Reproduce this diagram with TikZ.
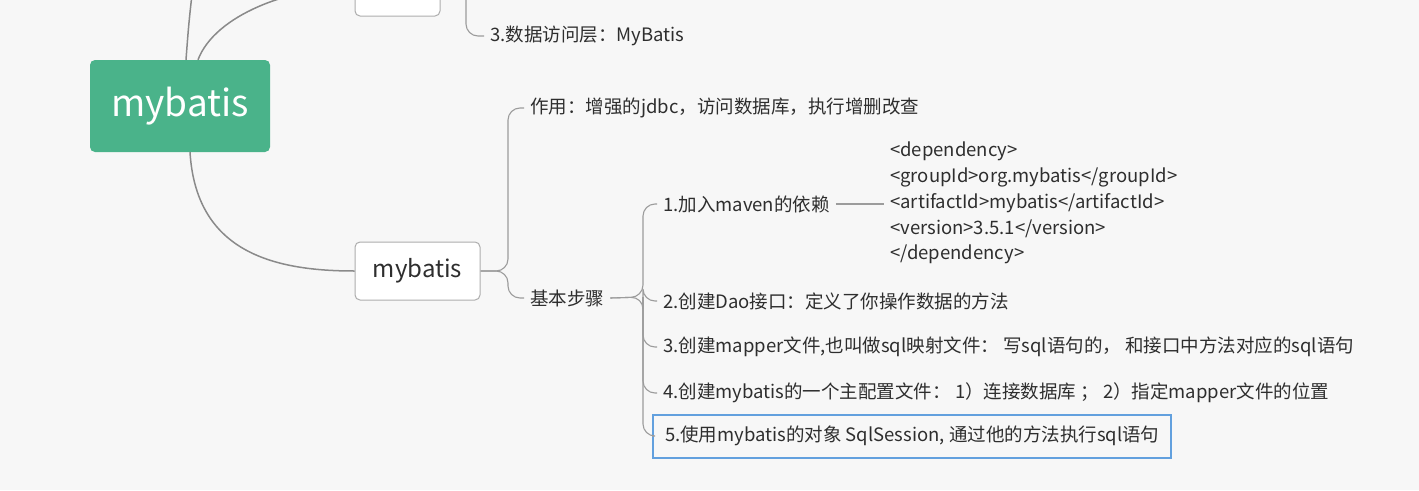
\documentclass[tikz,border=0pt]{standalone}
\usepackage{fontspec}
\newfontfamily\cjk{Noto Sans CJK SC}
\usepackage{xcolor}
\usepackage{tikz}
\usetikzlibrary{calc}

\definecolor{bgc}{HTML}{F7F7F7}
\definecolor{rootgreen}{HTML}{4AB38A}
\definecolor{linkgray}{HTML}{8A8A8A}
\definecolor{txt}{HTML}{2E2E2E}
\definecolor{selblue}{HTML}{62A0DE}

\begin{document}
\begin{tikzpicture}[
  x=1pt,y=-1pt,
  font=\cjk\fontsize{18.5}{22}\selectfont,
  root/.style={fill=rootgreen,rounded corners=5pt,text=white,minimum width=180pt,minimum height=92pt,font=\cjk\fontsize{37}{42}\selectfont},
  topic/.style={draw=linkgray!70,fill=white,rounded corners=5pt,line width=1pt,minimum width=125pt,minimum height=58pt,text=txt,font=\cjk\fontsize{24}{28}\selectfont},
  leaf/.style={anchor=west,text=txt,inner xsep=6pt,inner ysep=2pt},
  link/.style={draw=linkgray,line width=1.5pt},
  twig/.style={draw=linkgray!85,line width=1.1pt,rounded corners=12pt},
]
\clip (0,0) rectangle (1419,490);
\fill[bgc] (0,0) rectangle (1419,490);

\node[root] (root) at (180,106) {mybatis};
\node[topic,minimum width=85pt] (arch) at (397.5,-13) {};
\node[topic] (mb) at (417.5,271) {mybatis};
\coordinate (up) at (196,-40);

\node[leaf] (l3) at (484,36) {3.数据访问层：MyBatis};
\node[leaf] (zy) at (524,108) {作用：增强的jdbc，访问数据库，执行增删改查};
\node[leaf] (bz) at (524,298) {基本步骤};

\node[leaf] (s1) at (657,204) {1.加入maven的依赖};
\node[leaf,align=left,font=\cjk\fontsize{18.5}{25.8}\selectfont] (dep) at (884,203)
  {<dependency>\\<groupId>org.mybatis</groupId>\\<artifactId>mybatis</artifactId>\\<version>3.5.1</version>\\</dependency>};
\node[leaf] (s2) at (657,301) {2.创建Dao接口：定义了你操作数据的方法};
\node[leaf] (s3) at (657,347) {3.创建mapper文件,也叫做sql映射文件： 写sql语句的， 和接口中方法对应的sql语句};
\node[leaf] (s4) at (657,393) {4.创建mybatis的一个主配置文件： 1）连接数据库 ； 2）指定mapper文件的位置};
\node[leaf,draw=selblue,line width=2pt,inner xsep=12pt,minimum height=43pt] (s5) at (652,436) {5.使用mybatis的对象 SqlSession, 通过他的方法执行sql语句};

\draw[link] ([xshift=6pt]root.north) .. controls (189,20) .. (up);
\draw[link] ([xshift=18pt]root.north) .. controls (215,15) and (290,-13) .. (arch.west);
\draw[link] ([xshift=10pt]root.south) .. controls (196,250) and (270,271) .. (mb.west);

\draw[twig] (arch.east) -- (466,-13) |- (l3.west);
\draw[twig] (mb.east) -- (508,271) |- (zy.west);
\draw[twig] (mb.east) -- (508,271) |- (bz.west);

\draw[twig] (bz.east) -- (643,297) |- (s1.west);
\draw[twig] (bz.east) -- (643,297) |- (s2.west);
\draw[twig] (643,297) |- (s3.west);
\draw[twig] (643,297) |- (s4.west);
\draw[twig] (643,297) |- (s5.west);
\draw[twig] (s1.east) -- (s1.east -| dep.west);
\end{tikzpicture}
\end{document}
